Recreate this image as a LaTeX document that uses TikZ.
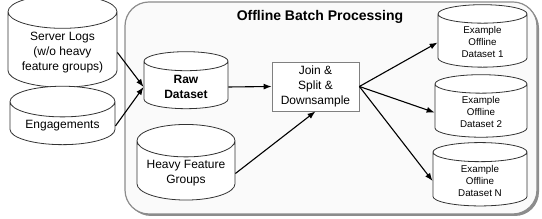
\documentclass[tikz,border=0pt]{standalone}
\usepackage{fontspec}
\setmainfont{Liberation Sans}
\usepackage{tikz}
\usetikzlibrary{arrows.meta,positioning,shapes.geometric}

\tikzset{
  store/.style={cylinder, shape border rotate=90, draw=black!80, line width=0.8pt, aspect=0.38, fill=white, align=center, font=\fontsize{12}{15}\selectfont},
  outstore/.style={store, font=\fontsize{9.8}{12}\selectfont},
  flow/.style={-Latex, line width=1.1pt}
}

\begin{document}
\begin{tikzpicture}[x=1pt, y=1pt]
\useasboundingbox (0,0) rectangle (542,219);
% Batch processing frame
\fill [black!45, rounded corners=24pt] (127,3) rectangle (539,215);
\node (batch) at (331,111) [draw=black!45, line width=1.2pt, rounded corners=24pt, fill=black!2, minimum width=412pt, minimum height=212pt] {};
\node (title) at (320,202) [font=\bfseries\fontsize{14}{16}\selectfont] {Offline Batch Processing};

% Define the sources
\node (logs) at (62.5,166.5) [store, minimum width=109pt, minimum height=85pt] {Server Logs\\(w/o heavy\\feature groups)};
\node (eng) at (62.5,93) [store, minimum width=105pt, minimum height=42pt] {Engagements};

% Inside the frame
\node (raw) at (186,132) [store, minimum width=84pt, minimum height=57pt, font=\bfseries\fontsize{12}{15}\selectfont] {Raw\\Dataset};
\node (heavy) at (186,45.5) [store, minimum width=98pt, minimum height=53pt] {Heavy Feature\\Groups};
\node (join) at (315.5,132.5) [draw=black!50, line width=0.8pt, fill=white, minimum width=87pt, minimum height=49pt, align=center, font=\fontsize{12}{15}\selectfont] {Join \&\\Split \&\\Downsample};

% Outputs
\node (out1) at (482.5,176.5) [outstore, minimum width=89pt, minimum height=59pt] {Example\\Offline\\Dataset 1};
\node (out2) at (481,106.5) [outstore, minimum width=92pt, minimum height=61pt] {Example\\Offline\\Dataset 2};
\node (outn) at (480,38) [outstore, minimum width=94pt, minimum height=57pt] {Example\\Offline\\Dataset N};

% Arrows
\draw [flow] (logs.east) -- (raw.west);
\draw [flow] (eng.east) -- (raw.west);
\draw [flow] (raw.east) -- (join.west);
\draw [flow] (heavy.east) -- (join.south);
\draw [flow] (join.east) -- (out1.west);
\draw [flow] (join.east) -- (out2.west);
\draw [flow] (join.east) -- (outn.west);
\end{tikzpicture}
\end{document}
